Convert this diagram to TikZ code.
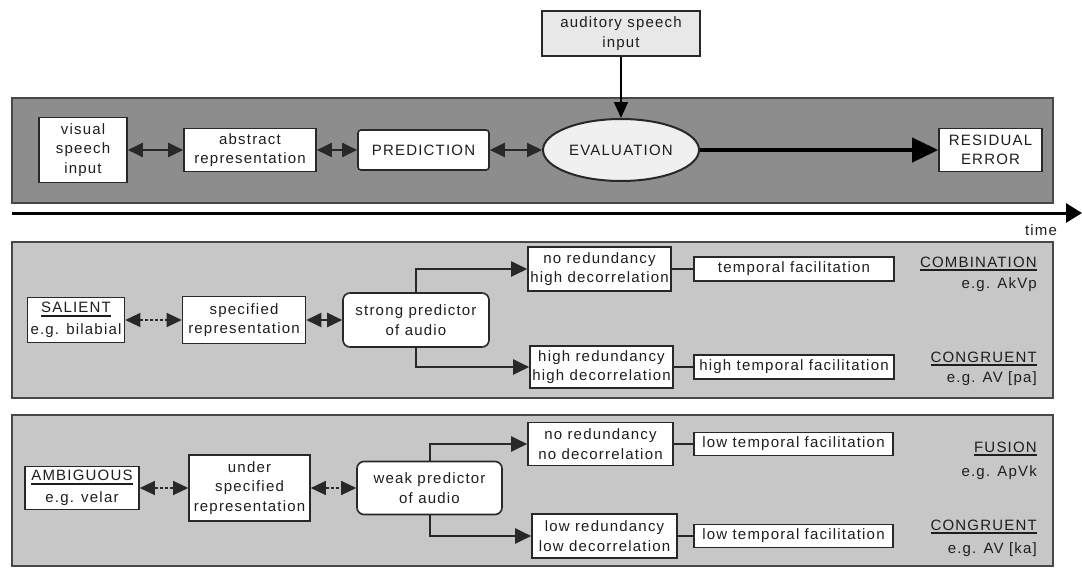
\documentclass[tikz,border=0pt]{standalone}
\usepackage{fontspec}
\setmainfont{Liberation Sans}[LetterSpace=8]
\usetikzlibrary{arrows.meta,shapes.geometric}

\definecolor{topfill}{RGB}{141,141,141}
\definecolor{midfill}{RGB}{199,199,199}
\definecolor{panelline}{RGB}{72,72,72}
\definecolor{boxline}{RGB}{40,40,40}
\definecolor{txt}{RGB}{30,30,30}
\definecolor{audfill}{RGB}{232,232,232}
\definecolor{evalfill}{RGB}{240,240,240}

% word with a heavy rule underneath
\newcommand\ulbar[1]{\vtop{\hbox{#1}\kern2pt\hrule height 2pt}}

\tikzset{
  panel/.style={draw=panelline, line width=2pt},
  wbox/.style={draw=boxline, line width=1.6pt, fill=white, inner sep=1pt,
    align=center, text=txt, font=\fontsize{15}{19.5}\selectfont},
  rbox/.style={wbox, rounded corners=7pt},
  lbl/.style={inner sep=0pt, text=txt, font=\fontsize{15}{19.5}\selectfont},
  conn/.style={line width=2pt, draw=boxline},
  dbl/.style={conn, {Triangle[length=15pt,width=14pt]}-{Triangle[length=15pt,width=14pt]}},
  dashdbl/.style={dbl, line width=1.2pt, dash pattern=on 3pt off 2pt},
  branch/.style={conn, -{Triangle[length=16pt,width=15pt]}},
  bigarrow/.style={line width=4pt, draw=black, -{Triangle[length=26pt,width=24pt]}},
  downarrow/.style={line width=1.5pt, draw=black, -{Triangle[length=16pt,width=14pt]}},
  timeaxis/.style={line width=3pt, draw=black, -{Triangle[length=16pt,width=19pt]}},
}

\begin{document}
\begin{tikzpicture}[x=1pt,y=-1pt]
\useasboundingbox (0,0) rectangle (1082,570);
\fill[white] (0,0) rectangle (1082,570);

% ---- panels ----
\draw[panel, fill=topfill] (12,98) rectangle (1053,203);
\draw[panel, fill=midfill] (12,242) rectangle (1053,398);
\draw[panel, fill=midfill] (12,415) rectangle (1053,566);

% ---- time axis ----
\coordinate (t0) at (12,213);
\coordinate (t1) at (1082,213);
\draw[timeaxis] (t0) -- (t1);
\node[lbl] (time) at (1041,230) {time};

% ---- top row: processing chain ----
\node[wbox, fill=audfill, minimum width=158pt, minimum height=45pt] (aud) at (621,33.5) {auditory speech\\input};
\node[wbox, minimum width=88pt, minimum height=65pt] (vis) at (83,150) {visual\\speech\\input};
\node[wbox, minimum width=132pt, minimum height=43pt] (abs) at (250,150) {abstract\\representation};
\node[wbox, rounded corners=3pt, minimum width=131pt, minimum height=40pt] (pred) at (423.5,150) {PREDICTION};
\node[wbox, ellipse, fill=evalfill, line width=2pt, minimum width=156pt, minimum height=62pt] (eval) at (621,150) {EVALUATION};
\node[wbox, minimum width=103pt, minimum height=43pt] (res) at (990.5,150) {RESIDUAL\\ERROR};

\draw[downarrow] (aud.south) -- (eval.north);
\draw[dbl] (vis.east) -- (abs.west);
\draw[dbl] (abs.east) -- (pred.west);
\draw[dbl] (pred.east) -- (eval.west);
\draw[bigarrow] (eval.east) -- (res.west);

% ---- middle panel: salient cue ----
\node[wbox, minimum width=97pt, minimum height=45pt] (sal) at (76,320) {\ulbar{SALIENT}\\[2pt]e.g. bilabial};
\node[wbox, minimum width=123pt, minimum height=47pt] (spec) at (244,320) {specified\\representation};
\node[rbox, minimum width=146pt, minimum height=54pt] (strong) at (416,320) {strong predictor\\of audio};
\node[wbox, minimum width=143pt, minimum height=44pt] (nrhd) at (599.5,269) {no redundancy\\high decorrelation};
\node[wbox, minimum width=143pt, minimum height=42pt] (hrhd) at (601.5,367) {high redundancy\\high decorrelation};
\node[wbox, minimum width=200pt, minimum height=24pt] (tf1) at (794,269) {temporal facilitation};
\node[wbox, minimum width=200pt, minimum height=24pt] (tf2) at (794,367) {high temporal facilitation};

\draw[dashdbl] (sal.east) -- (spec.west);
\draw[dbl] (spec.east) -- (strong.west);
\draw[branch] (strong.north) |- (nrhd.west);
\draw[branch] (strong.south) |- (hrhd.west);
\draw[conn] (nrhd.east) -- (tf1.west);
\draw[conn] (hrhd.east) -- (tf2.west);

\node[lbl, anchor=base east] (combT) at (1037,267) {\ulbar{COMBINATION}};
\node[lbl, anchor=base east] (combE) at (1037,288) {e.g. AkVp};
\node[lbl, anchor=base east] (congT) at (1037,362) {\ulbar{CONGRUENT}};
\node[lbl, anchor=base east] (congE) at (1037,382) {e.g. AV [pa]};

% ---- bottom panel: ambiguous cue ----
\node[wbox, minimum width=114pt, minimum height=43pt] (amb) at (82,488) {\ulbar{AMBIGUOUS}\\[2pt]e.g. velar};
\node[wbox, minimum width=121pt, minimum height=66pt] (uspec) at (249.5,488) {under\\specified\\representation};
\node[rbox, minimum width=145pt, minimum height=53pt] (weak) at (429.5,488) {weak predictor\\of audio};
\node[wbox, minimum width=145pt, minimum height=43pt] (nrnd) at (600.5,444) {no redundancy\\no decorrelation};
\node[wbox, minimum width=145pt, minimum height=44pt] (lrld) at (604.5,536) {low redundancy\\low decorrelation};
\node[wbox, minimum width=199pt, minimum height=23pt] (ltf1) at (793.5,444) {low temporal facilitation};
\node[wbox, minimum width=199pt, minimum height=23pt] (ltf2) at (793.5,536) {low temporal facilitation};

\draw[dashdbl] (amb.east) -- (uspec.west);
\draw[dashdbl] (uspec.east) -- (weak.west);
\draw[branch] (weak.north) |- (nrnd.west);
\draw[branch] (weak.south) |- (lrld.west);
\draw[conn] (nrnd.east) -- (ltf1.west);
\draw[conn] (lrld.east) -- (ltf2.west);

\node[lbl, anchor=base east] (fusT) at (1037,452) {\ulbar{FUSION}};
\node[lbl, anchor=base east] (fusE) at (1037,476) {e.g. ApVk};
\node[lbl, anchor=base east] (cong2T) at (1037,530) {\ulbar{CONGRUENT}};
\node[lbl, anchor=base east] (cong2E) at (1037,553) {e.g. AV [ka]};
\end{tikzpicture}
\end{document}
